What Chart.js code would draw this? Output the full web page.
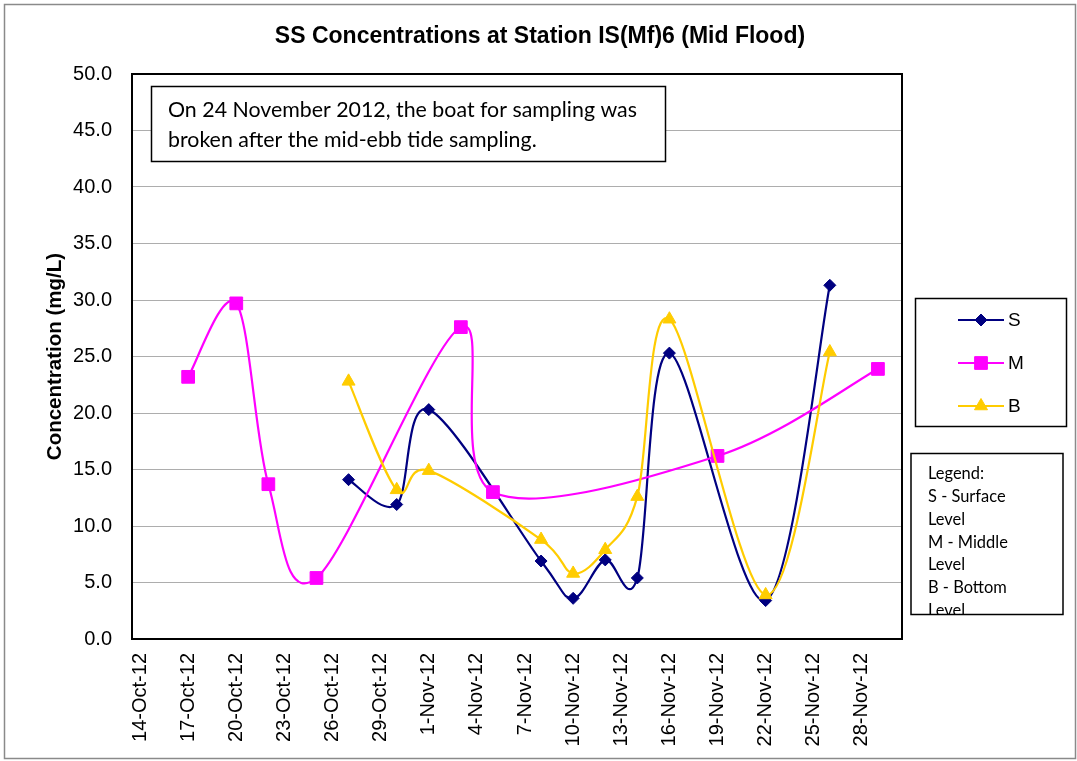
<!DOCTYPE html>
<html>
<head>
<meta charset="utf-8">
<script src="https://cdn.jsdelivr.net/npm/chart.js@4.4.0/dist/chart.umd.min.js"></script>
<style>
  html, body { margin: 0; padding: 0; background: #fff; }
  #wrap { width: 1077px; height: 761px; }
</style>
</head>
<body>
<div id="wrap"><canvas id="ssChart" width="1077" height="761"></canvas></div>
<script>
// SS concentrations, station IS(Mf)6, mid flood
const tickLabels = ['14-Oct-12', '17-Oct-12', '20-Oct-12', '23-Oct-12', '26-Oct-12', '29-Oct-12',
    '1-Nov-12', '4-Nov-12', '7-Nov-12', '10-Nov-12', '13-Nov-12', '16-Nov-12',
    '19-Nov-12', '22-Nov-12', '25-Nov-12', '28-Nov-12'];
const axisStart = '14-Oct-12';
const axisEnd = '30-Nov-12';

const surfaceDates = ['27-Oct-12', '30-Oct-12', '1-Nov-12', '8-Nov-12', '10-Nov-12', '12-Nov-12',
    '14-Nov-12', '16-Nov-12', '22-Nov-12', '26-Nov-12'];
const surfaceValues = [14.1, 11.9, 20.3, 6.9, 3.6, 7.0, 5.4, 25.3, 3.4, 31.3];

const middleDates = ['17-Oct-12', '20-Oct-12', '22-Oct-12', '25-Oct-12', '3-Nov-12', '5-Nov-12',
    '19-Nov-12', '29-Nov-12'];
const middleValues = [23.2, 29.7, 13.7, 5.4, 27.6, 13.0, 16.2, 23.9];

const bottomDates = ['27-Oct-12', '30-Oct-12', '1-Nov-12', '8-Nov-12', '10-Nov-12', '12-Nov-12',
    '14-Nov-12', '16-Nov-12', '22-Nov-12', '26-Nov-12'];
const bottomValues = [22.8, 13.2, 14.9, 8.8, 5.8, 7.9, 12.6, 28.3, 3.9, 25.4];

const noteLines = ['On 24 November 2012, the boat for sampling was', 'broken after the mid-ebb tide sampling.'];
const keyLines = ['Legend:', 'S - Surface', 'Level', 'M - Middle', 'Level', 'B - Bottom', 'Level'];

const MONTHS = { Oct: 9, Nov: 10 };
function dayNum(s) {
    const [d, m, y] = s.split('-');
    return Date.UTC(2000 + Number(y), MONTHS[m], Number(d)) / 86400000;
}
const day0 = dayNum(axisStart);
const toX = s => dayNum(s) - day0;
const toPoints = (dates, vals) => dates.map((d, i) => ({ x: toX(d), y: vals[i] }));

const series = [
    { label: 'S', color: '#000080', style: 'rectRot', radius: 6, order: 2, data: toPoints(surfaceDates, surfaceValues) },
    { label: 'M', color: '#FF00FF', style: 'rect', radius: 9, order: 1, data: toPoints(middleDates, middleValues) },
    { label: 'B', color: '#FFCC00', style: 'triangle', radius: 7.5, order: 0, data: toPoints(bottomDates, bottomValues) }
];

const ARIAL = '"Liberation Sans", Arial, sans-serif';
const CALIBRI = 'Lato, "Open Sans", sans-serif';

function fitFont(ctx, text, width, family) {
    ctx.font = '20px ' + family;
    return 20 * width / ctx.measureText(text).width;
}

// Excel style smoothing: control legs are 1/6 of the neighbour chord
const excelSmooth = {
    id: 'excelSmooth',
    beforeDatasetsDraw(chart) {
        chart.data.datasets.forEach((ds, i) => {
            const meta = chart.getDatasetMeta(i);
            const pts = meta.data;
            const n = pts.length;
            for (let k = 0; k < n; k++) {
                const p0 = pts[Math.max(k - 1, 0)], p1 = pts[k], p2 = pts[Math.min(k + 1, n - 1)];
                const dx = (p2.x - p0.x) / 6, dy = (p2.y - p0.y) / 6;
                p1.cp1x = p1.x - dx; p1.cp1y = p1.y - dy;
                p1.cp2x = p1.x + dx; p1.cp2y = p1.y + dy;
            }
            meta.dataset._pointsUpdated = true;
            meta.dataset._path = undefined;
        });
    }
};

const decor = {
    id: 'decor',
    beforeDraw(chart) {
        const ctx = chart.ctx;
        ctx.save();
        ctx.fillStyle = '#fff';
        ctx.fillRect(0, 0, chart.width, chart.height);
        ctx.restore();
    },
    beforeDatasetsDraw(chart) {
        const ctx = chart.ctx, a = chart.chartArea;
        ctx.save();
        ctx.strokeStyle = '#000';
        ctx.lineWidth = 2;
        ctx.strokeRect(a.left, a.top, a.right - a.left, a.bottom - a.top);
        ctx.restore();
    },
    afterDraw(chart) {
        const ctx = chart.ctx;
        ctx.save();

        // outer frame
        ctx.strokeStyle = '#8a8a8a';
        ctx.lineWidth = 1.5;
        ctx.strokeRect(4.5, 4.5, 1071, 754);

        // title
        ctx.fillStyle = '#000';
        ctx.font = 'bold 23px ' + ARIAL;
        ctx.textAlign = 'center';
        ctx.textBaseline = 'middle';
        ctx.fillText('SS Concentrations at Station IS(Mf)6 (Mid Flood)', 540, 37);

        // note box
        ctx.fillStyle = '#fff';
        ctx.fillRect(151.5, 86.5, 514, 75);
        ctx.strokeStyle = '#000';
        ctx.lineWidth = 1.5;
        ctx.strokeRect(151.5, 86.5, 514, 75);
        const noteSize = fitFont(ctx, noteLines[0], 469, CALIBRI);
        ctx.font = noteSize.toFixed(2) + 'px ' + CALIBRI;
        ctx.fillStyle = '#000';
        ctx.textAlign = 'left';
        noteLines.forEach((t, i) => ctx.fillText(t, 168, 110 + i * 30));

        // series legend
        ctx.strokeRect(915.5, 298.5, 151, 128);
        series.forEach((s, i) => {
            const y = 320 + i * 43;
            ctx.strokeStyle = s.color;
            ctx.lineWidth = 2;
            ctx.beginPath();
            ctx.moveTo(958, y);
            ctx.lineTo(1004, y);
            ctx.stroke();
            ctx.fillStyle = s.color;
            ctx.lineWidth = 1;
            Chart.helpers.drawPoint(ctx, { pointStyle: s.style, radius: s.radius, borderWidth: 1, rotation: 0 }, 981, y);
            ctx.fillStyle = '#000';
            ctx.font = '19px ' + ARIAL;
            ctx.fillText(s.label, 1008, y + 1);
        });

        // text key
        ctx.strokeStyle = '#000';
        ctx.lineWidth = 1.5;
        ctx.save();
        ctx.beginPath();
        ctx.rect(911, 453.5, 152, 161);
        ctx.clip();
        const keySize = fitFont(ctx, keyLines[1], 77.7, CALIBRI);
        ctx.font = keySize.toFixed(2) + 'px ' + CALIBRI;
        ctx.fillStyle = '#000';
        keyLines.forEach((t, i) => ctx.fillText(t, 928, 473.5 + i * 22.9));
        ctx.restore();
        ctx.strokeRect(911, 453.5, 152, 161);

        ctx.restore();
    }
};

new Chart(document.getElementById('ssChart').getContext('2d'), {
    type: 'line',
    data: {
        datasets: series.map(s => ({
            label: s.label,
            data: s.data,
            borderColor: s.color,
            backgroundColor: s.color,
            pointBackgroundColor: s.color,
            pointBorderColor: s.color,
            pointStyle: s.style,
            pointRadius: s.radius,
            pointBorderWidth: 1,
            borderWidth: 2.2,
            tension: 0.4,
            fill: false,
            order: s.order
        }))
    },
    plugins: [excelSmooth, decor],
    options: {
        responsive: false,
        animation: false,
        events: [],
        layout: { padding: { top: 74, right: 175, left: 0, bottom: 0 } },
        plugins: {
            legend: { display: false },
            title: { display: false },
            tooltip: { enabled: false }
        },
        scales: {
            x: {
                type: 'linear',
                min: -0.5,
                max: toX(axisEnd) + 0.5,
                afterFit: scale => { scale.height = 122; },
                afterBuildTicks: scale => {
                    scale.ticks = tickLabels.map(t => ({ value: toX(t), label: t }));
                },
                grid: { display: false, drawTicks: false },
                border: { display: false },
                ticks: {
                    autoSkip: false,
                    minRotation: 90,
                    maxRotation: 90,
                    padding: 14,
                    color: '#000',
                    font: { family: ARIAL, size: 20 },
                    callback: (v, i) => tickLabels[i]
                }
            },
            y: {
                min: 0,
                max: 50,
                afterFit: scale => { scale.width = 132; },
                grid: { color: '#adadad', lineWidth: 1, drawTicks: false },
                border: { display: false },
                ticks: {
                    stepSize: 5,
                    padding: 20,
                    color: '#000',
                    font: { family: ARIAL, size: 20 },
                    callback: v => v.toFixed(1)
                },
                title: {
                    display: true,
                    text: 'Concentration (mg/L)',
                    color: '#000',
                    font: { family: ARIAL, size: 20.5, weight: 'bold' },
                    padding: { top: 43.5, bottom: 0 }
                }
            }
        }
    }
});
</script>
</body>
</html>
